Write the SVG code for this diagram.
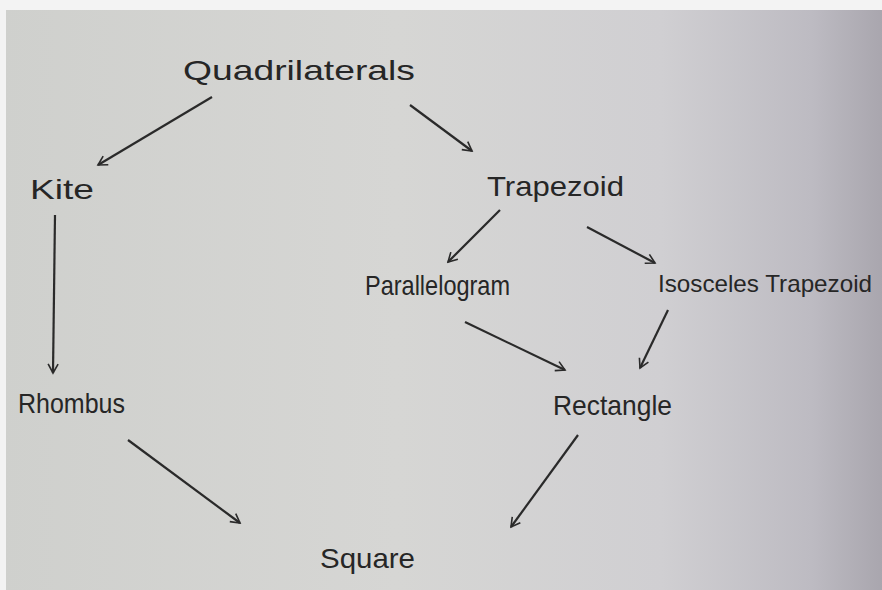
<svg xmlns="http://www.w3.org/2000/svg" width="882" height="590" viewBox="0 0 882 590">
<defs>
<linearGradient id="bg" x1="0" y1="0" x2="1" y2="0">
<stop offset="0" stop-color="#cfd0cd"/>
<stop offset="0.45" stop-color="#d6d6d4"/>
<stop offset="0.75" stop-color="#d0cfd2"/>
<stop offset="0.92" stop-color="#bdbbc2"/>
<stop offset="1" stop-color="#a9a6ae"/>
</linearGradient>
<marker id="ah" viewBox="0 0 12 12" refX="10" refY="6" markerWidth="12" markerHeight="12" markerUnits="userSpaceOnUse" orient="auto">
<path d="M1,1 L10,6 L1,11" fill="none" stroke="#2a2a2a" stroke-width="1.6"/>
</marker>
<style>
.t{font-family:"Liberation Sans","DejaVu Sans",sans-serif;fill:#262626;font-size:28px}
.c{stroke:#2a2a2a;stroke-width:2.2;fill:none;marker-end:url(#ah)}
</style>
</defs>
<rect width="882" height="590" fill="url(#bg)"/>
<rect width="882" height="10" fill="#f3f3f3"/>
<rect width="6" height="590" fill="#f3f3f3"/>
<g id="connectors">
<line class="c" x1="212" y1="97" x2="98" y2="165"/>
<line class="c" x1="410" y1="105" x2="472" y2="151"/>
<line class="c" x1="55" y1="215" x2="53" y2="373"/>
<line class="c" x1="500" y1="210" x2="448" y2="262"/>
<line class="c" x1="587" y1="227" x2="655" y2="263"/>
<line class="c" x1="465" y1="322" x2="565" y2="370"/>
<line class="c" x1="668" y1="310" x2="640" y2="368"/>
<line class="c" x1="128" y1="440" x2="240" y2="523"/>
<line class="c" x1="578" y1="435" x2="511" y2="527"/>
</g>
<g id="quadrilaterals"><text class="t" x="183" y="80" textLength="232" lengthAdjust="spacingAndGlyphs">Quadrilaterals</text></g>
<g id="kite"><text class="t" x="30" y="199" textLength="64" lengthAdjust="spacingAndGlyphs">Kite</text></g>
<g id="trapezoid"><text class="t" x="487" y="196" textLength="137" lengthAdjust="spacingAndGlyphs">Trapezoid</text></g>
<g id="parallelogram"><text class="t" x="365" y="295" textLength="145" lengthAdjust="spacingAndGlyphs">Parallelogram</text></g>
<g id="isosceles-trapezoid"><text class="t" x="658" y="292" style="font-size:24px" textLength="214" lengthAdjust="spacingAndGlyphs">Isosceles Trapezoid</text></g>
<g id="rhombus"><text class="t" x="18" y="413" textLength="107" lengthAdjust="spacingAndGlyphs">Rhombus</text></g>
<g id="rectangle"><text class="t" x="553" y="415" textLength="119" lengthAdjust="spacingAndGlyphs">Rectangle</text></g>
<g id="square"><text class="t" x="320" y="568" textLength="95" lengthAdjust="spacingAndGlyphs">Square</text></g>
</svg>
